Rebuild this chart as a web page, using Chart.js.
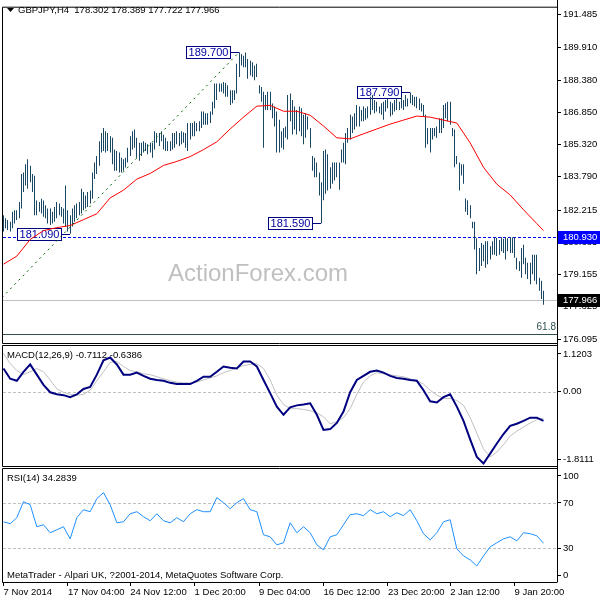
<!DOCTYPE html>
<html>
<head>
<meta charset="utf-8">
<title>GBPJPY H4</title>
<script src="https://cdn.jsdelivr.net/npm/chart.js@4.4.1/dist/chart.umd.min.js"></script>
<style>
  html, body { margin: 0; padding: 0; background: #fff; }
  #wrap { position: relative; width: 600px; height: 600px; }
  #wrap canvas { position: absolute; left: 0; top: 0; }
</style>
</head>
<body>
<div id="wrap">
  <canvas id="priceChart" width="600" height="600"></canvas>
  <canvas id="macdChart" width="600" height="600"></canvas>
  <canvas id="rsiChart" width="600" height="600"></canvas>
</div>
<script>
// H4 bars (one entry per bar, oldest first)
const barHigh = [
  181.97,181.82,181.74,181.66,182.13,182.21,182.21,182.60,183.92,184.00,
  184.39,184.62,184.31,183.92,183.84,182.67,182.60,182.75,182.67,182.44,
  182.29,182.29,182.13,182.36,182.60,182.52,182.36,182.29,183.38,182.21,
  181.97,182.29,182.44,182.52,182.60,183.22,183.07,182.91,183.07,183.14,
  184.00,184.47,184.78,185.48,185.87,186.10,185.95,185.87,185.71,185.64,
  185.09,185.01,184.94,184.70,184.62,184.70,185.17,185.71,185.95,186.03,
  185.64,185.40,185.40,185.48,185.40,185.33,185.40,185.40,185.95,185.87,
  185.87,185.95,185.79,185.64,185.48,185.48,185.87,185.87,185.95,185.87,
  185.95,185.90,185.87,186.34,186.34,186.34,186.42,186.34,186.42,186.89,
  186.89,186.81,186.81,186.89,187.35,188.21,188.21,188.21,188.21,188.29,
  188.24,188.13,187.90,187.90,187.90,189.15,189.70,189.61,189.53,189.69,
  189.38,189.30,189.22,189.07,189.15,188.13,188.05,187.82,187.67,187.82,
  187.82,187.27,187.12,186.89,186.50,185.95,186.11,186.18,187.67,187.74,
  187.43,187.12,186.96,187.12,187.04,186.73,186.81,186.65,186.11,184.78,
  184.70,184.47,184.00,183.53,185.02,185.09,184.86,184.24,184.47,184.47,
  184.47,184.47,185.09,185.41,185.87,186.11,186.73,186.65,186.81,187.20,
  187.12,186.96,187.12,187.04,187.12,187.59,187.67,187.43,187.35,187.12,
  187.28,187.35,187.43,187.51,187.35,187.28,187.43,187.51,187.35,187.59,
  187.43,187.67,187.51,187.79,187.67,187.59,187.59,187.51,187.28,187.20,
  186.73,186.11,186.11,186.11,186.11,186.18,186.57,186.57,187.20,187.28,
  187.35,187.35,186.11,186.03,184.78,184.47,184.39,184.39,182.76,182.68,
  182.44,181.66,181.66,180.88,180.42,180.65,180.57,180.73,180.73,180.50,
  180.73,180.93,180.90,180.80,180.93,180.85,180.93,180.88,180.93,180.91,
  180.93,179.95,179.79,180.42,180.57,179.95,179.71,179.71,180.10,180.10,
  180.10,179.01,178.86,178.39
];
const barLow = [
  181.20,181.35,181.27,181.20,181.35,181.58,181.74,181.82,182.29,183.07,
  183.38,183.22,183.53,183.07,181.97,181.97,182.13,182.05,181.90,181.82,
  181.58,181.51,181.58,181.66,181.82,181.97,181.90,181.58,181.43,181.20,
  181.09,181.43,181.66,181.82,181.97,182.05,182.21,182.29,182.36,182.52,
  182.75,183.69,183.92,184.31,184.94,185.01,184.94,185.01,184.94,184.39,
  184.08,184.08,184.00,184.00,184.08,184.23,184.47,184.78,185.09,185.17,
  184.70,184.55,184.78,184.94,185.01,184.86,184.94,184.70,185.09,185.40,
  185.25,185.48,185.09,185.01,185.01,185.01,185.09,185.17,185.33,185.25,
  185.33,185.40,185.17,185.01,185.56,185.71,185.71,185.95,185.95,186.10,
  186.26,186.26,186.26,186.34,186.73,187.04,187.43,187.82,187.82,187.74,
  187.59,187.59,187.20,187.28,187.43,187.74,188.52,189.07,188.99,188.99,
  188.44,188.60,188.52,188.37,188.52,187.74,187.35,185.17,186.96,186.96,
  186.96,186.57,186.18,184.94,184.94,185.17,185.09,185.64,185.56,186.42,
  185.80,186.03,185.80,185.95,185.72,185.33,185.64,186.03,185.17,184.08,
  183.77,183.77,182.91,181.59,182.68,182.99,183.14,183.22,183.46,183.61,
  183.77,183.18,184.47,184.47,184.39,185.41,185.56,185.87,186.03,186.18,
  186.18,186.42,186.42,186.50,186.57,186.73,186.96,186.81,186.89,186.81,
  186.73,186.50,186.89,187.04,186.65,186.73,186.89,186.96,186.96,187.04,
  186.96,187.12,187.12,187.28,187.20,187.12,187.04,186.96,186.89,186.65,
  185.17,185.33,184.94,185.56,185.72,185.64,185.87,185.87,186.11,186.57,
  186.42,186.26,185.72,184.24,184.39,183.14,183.85,183.46,182.13,181.98,
  181.82,181.35,180.34,179.17,179.33,179.56,179.79,179.48,179.64,179.87,
  180.10,180.10,180.03,180.10,180.26,180.18,179.87,180.26,180.18,180.18,
  179.95,179.40,179.33,179.01,179.64,179.17,178.94,178.70,179.17,178.86,
  178.70,178.39,178.00,177.72
];

// red moving average, one value every 6 bars
const maStep = 6;
const maValues = [
  179.65,180.03,180.82,181.24,181.38,181.48,181.76,182.04,182.79,183.16,
  183.68,183.95,184.33,184.52,184.75,185.08,185.45,186.06,186.62,187.14,
  187.18,186.90,186.90,186.71,186.20,185.64,185.59,185.83,186.06,186.29,
  186.48,186.67,186.62,186.48,186.34,185.40,184.24,183.44,182.93,182.23,
  181.57,181.24
];

// MACD / signal / RSI, one value every 3 bars
const indStep = 3;
const macdMain = [
  0.57,0.32,0.27,0.49,0.67,0.42,0.17,-0.01,-0.06,-0.08,
  -0.13,-0.06,0.07,0.12,0.42,0.77,0.84,0.67,0.42,0.42,
  0.47,0.39,0.32,0.29,0.27,0.22,0.19,0.19,0.19,0.27,
  0.37,0.37,0.49,0.62,0.59,0.57,0.74,0.74,0.62,0.29,
  -0.03,-0.36,-0.56,-0.38,-0.33,-0.31,-0.28,-0.56,-0.93,-0.91,
  -0.76,-0.48,-0.01,0.29,0.39,0.49,0.52,0.47,0.39,0.34,
  0.32,0.29,0.27,0.04,-0.23,-0.26,-0.13,-0.06,-0.36,-0.71,
  -1.16,-1.59,-1.75,-1.51,-1.26,-1.03,-0.83,-0.78,-0.71,-0.63,
  -0.63,-0.71
];
const macdSignal = [
  0.94,0.69,0.52,0.42,0.49,0.57,0.49,0.29,0.07,-0.01,
  -0.06,-0.08,-0.06,0.04,0.27,0.49,0.72,0.74,0.62,0.52,
  0.49,0.44,0.42,0.37,0.32,0.27,0.24,0.22,0.22,0.24,
  0.29,0.34,0.39,0.47,0.52,0.59,0.64,0.67,0.69,0.57,
  0.29,-0.08,-0.31,-0.41,-0.41,-0.43,-0.46,-0.51,-0.61,-0.78,
  -0.73,-0.63,-0.41,-0.06,0.24,0.39,0.47,0.44,0.42,0.39,
  0.37,0.32,0.27,0.19,0.04,-0.08,-0.16,-0.16,-0.21,-0.33,
  -0.63,-1.01,-1.39,-1.59,-1.47,-1.29,-1.08,-0.96,-0.86,-0.76,
  -0.68,-0.64
];
const rsiValues = [
  53.3,51.6,56.9,71.1,68.4,48.9,50.7,43.6,46.2,48.9,
  38.2,56.9,64.0,62.2,73.8,79.1,68.4,52.4,53.3,60.4,
  62.2,57.8,54.2,60.4,54.2,52.4,56.9,53.3,60.4,64.0,
  62.2,62.2,74.7,70.2,64.9,70.2,73.8,64.0,62.2,41.8,
  40.0,32.9,34.7,52.4,43.6,48.9,43.6,32.9,28.4,40.0,
  41.8,50.7,59.6,60.4,58.7,64.0,60.4,62.2,57.8,61.3,
  58.7,64.0,54.2,42.7,37.3,43.6,53.3,55.1,29.3,23.1,
  19.6,14.2,23.1,31.1,34.7,38.2,40.0,36.4,43.6,42.7,
  40.9,34.3
];

// axis ticks
const priceTicks = [191.485, 189.910, 188.380, 186.850, 185.320, 183.790, 182.215, 180.685, 179.155, 177.625, 176.095];
const macdTicks = [0.926, 0, -1.641];
const macdTickLabels = ['1.1203', '0.00', '-1.8111'];
const rsiTicks = [93.9, 70, 30, 6.1];
const rsiTickLabels = ['100', '70', '30', '0'];
const dateTickBars = [0, 29, 57, 86, 115, 144, 173, 201, 230];
const dateTickLabels = ['7 Nov 2014', '17 Nov 04:00', '24 Nov 12:00', '1 Dec 20:00', '9 Dec 04:00',
  '16 Dec 12:00', '23 Dec 20:00', '2 Jan 12:00', '9 Jan 20:00'];

// chart objects
const markBars = [106, 183, 143, 30];
const markPrices = [189.70, 187.79, 181.59, 181.09];
const markLabels = ['189.700', '187.790', '181.590', '181.090'];
const trendBars = [-0.7, 106];
const trendPrices = [178.06, 189.70];
const levelPrice = 180.93;
const bidPrice = 177.966;
const fibPrice = 176.32;
const macdLevels = [0];
const rsiLevels = [70, 30];

const FONT = '"Liberation Sans", Arial, sans-serif';
Chart.defaults.font.family = FONT;
Chart.defaults.font.size = 9.5;
Chart.defaults.color = '#000';

const lastBar = barHigh.length - 1;
const xRange = { min: -0.225, max: 249.075 };

function stepSeries(values, step) {
  return values.map((v, k) => ({ x: Math.min(k * step, lastBar), y: v }));
}

function hiddenX() {
  return { type: 'linear', min: xRange.min, max: xRange.max, offset: false, display: false };
}

function rightAxis(min, max, tickValues, labels) {
  return {
    position: 'right', min: min, max: max,
    afterFit: s => { s.width = 43; },
    afterBuildTicks: s => { s.ticks = tickValues.map(v => ({ value: v })); },
    grid: { drawOnChartArea: false, drawTicks: true, tickLength: 4, color: '#000' },
    border: { display: false },
    ticks: { autoSkip: false, padding: 2, callback: (v, i) => labels[i] }
  };
}

function drawLevel(chart, value, color, dash) {
  const { ctx, chartArea: a } = chart;
  const y = Math.round(chart.scales.y.getPixelForValue(value)) + 0.5;
  ctx.save();
  ctx.strokeStyle = color;
  ctx.lineWidth = 1;
  ctx.setLineDash(dash);
  ctx.beginPath();
  ctx.moveTo(a.left, y);
  ctx.lineTo(a.right, y);
  ctx.stroke();
  ctx.restore();
}

function drawFrame(chart) {
  const { ctx, chartArea: a } = chart;
  ctx.save();
  ctx.strokeStyle = '#000';
  ctx.lineWidth = 1;
  ctx.beginPath();
  ctx.moveTo(a.right, a.top - 0.5);
  ctx.lineTo(2.5, a.top - 0.5);
  ctx.lineTo(2.5, a.bottom + 0.5);
  ctx.lineTo(a.right, a.bottom + 0.5);
  ctx.stroke();
  ctx.restore();
}

function text(ctx, str, x, y, font, color, align) {
  ctx.save();
  ctx.font = font;
  ctx.fillStyle = color;
  ctx.textAlign = align || 'left';
  ctx.textBaseline = 'middle';
  ctx.fillText(str, x, y);
  ctx.restore();
}

const common = {
  responsive: false,
  animation: false,
  events: [],
  plugins: { legend: { display: false }, tooltip: { enabled: false } }
};

// ---- price panel ----
const pricePlugin = {
  id: 'pricePanel',
  beforeDatasetsDraw(chart) {
    const { ctx, scales } = chart;
    text(ctx, 'ActionForex.com', 168, 274, '24px ' + FONT, '#c0c0c0');
    drawLevel(chart, bidPrice, '#c0c0c0', []);
    drawLevel(chart, fibPrice, '#2f4f4f', []);
    drawLevel(chart, levelPrice, '#0000ff', [3, 2]);
    text(ctx, '61.8', chart.chartArea.right - 1, scales.y.getPixelForValue(fibPrice) - 7, '10px ' + FONT, '#2f4f4f', 'right');

    // price labels of the swing points
    ctx.save();
    ctx.font = '11px ' + FONT;
    markLabels.forEach((lbl, i) => {
      const px = Math.round(scales.x.getPixelForValue(markBars[i]));
      const py = Math.round(scales.y.getPixelForValue(markPrices[i])) + 0.5;
      const w = Math.round(ctx.measureText(lbl).width) + 4;
      const right = px - 9;
      ctx.strokeStyle = '#000080';
      ctx.lineWidth = 1;
      ctx.beginPath();
      ctx.moveTo(right, py);
      ctx.lineTo(px, py);
      ctx.stroke();
      ctx.fillStyle = '#fff';
      ctx.fillRect(right - w, py - 6.5, w, 13);
      ctx.strokeRect(right - w + 0.5, py - 6, w, 12);
      ctx.fillStyle = '#0000a0';
      ctx.textAlign = 'center';
      ctx.textBaseline = 'middle';
      ctx.fillText(lbl, right - w / 2 + 0.5, py + 0.5);
    });
    ctx.restore();

    // snap the 1px bars onto whole pixel columns so they stay crisp
    chart.getDatasetMeta(2).data.forEach(el => { el.x = Math.floor(el.x) + 0.5; });
  },
  afterDraw(chart) {
    const { ctx, scales, chartArea: a } = chart;
    drawFrame(chart);
    // title
    ctx.save();
    ctx.fillStyle = '#000';
    ctx.beginPath();
    ctx.moveTo(7, 8); ctx.lineTo(14, 8); ctx.lineTo(10.5, 12); ctx.closePath();
    ctx.fill();
    ctx.restore();
    text(ctx, 'GBPJPY,H4  178.302 178.389 177.722 177.966', 18, 10.5, '9.5px ' + FONT, '#000');
    // highlighted price boxes on the axis
    [[levelPrice, '180.930', '#0000ff'], [bidPrice, '177.966', '#000']].forEach(b => {
      const y = Math.round(scales.y.getPixelForValue(b[0]));
      ctx.fillStyle = b[2];
      ctx.fillRect(a.right, y - 6, 600 - a.right, 13);
      text(ctx, b[1], a.right + 6, y + 0.5, '9.5px ' + FONT, '#fff');
    });
  }
};

new Chart(document.getElementById('priceChart'), {
  type: 'bar',
  data: {
    datasets: [
      {
        type: 'line', order: 1,
        data: trendBars.map((b, i) => ({ x: b, y: trendPrices[i] })),
        borderColor: '#006400', borderWidth: 1, borderDash: [2, 4], pointRadius: 0
      },
      {
        type: 'line', order: 2,
        data: stepSeries(maValues, maStep),
        borderColor: '#ff0000', borderWidth: 1, pointRadius: 0, tension: 0
      },
      {
        type: 'bar', order: 3,
        data: barHigh.map((h, i) => ({ x: i, y: [barLow[i], h] })),
        backgroundColor: '#1a4763', barThickness: 1, grouped: false,
        borderWidth: 0, inflateAmount: 0
      }
    ]
  },
  options: Object.assign({}, common, {
    layout: { padding: { left: 3, top: 3, right: 0, bottom: 257 } },
    scales: {
      x: hiddenX(),
      y: rightAxis(175.91, 191.81, priceTicks, priceTicks.map(v => v.toFixed(3)))
    }
  }),
  plugins: [pricePlugin]
});

// ---- MACD panel ----
new Chart(document.getElementById('macdChart'), {
  type: 'line',
  data: {
    datasets: [
      { data: stepSeries(macdMain, indStep), borderColor: '#000080', borderWidth: 2, pointRadius: 0 },
      { data: stepSeries(macdSignal, indStep), borderColor: '#c0c0c0', borderWidth: 1, pointRadius: 0 }
    ]
  },
  options: Object.assign({}, common, {
    layout: { padding: { left: 3, top: 346, right: 0, bottom: 134 } },
    scales: {
      x: hiddenX(),
      y: rightAxis(-1.8111, 1.1203, macdTicks, macdTickLabels)
    }
  }),
  plugins: [{
    id: 'macdPanel',
    beforeDatasetsDraw(chart) {
      macdLevels.forEach(v => drawLevel(chart, v, '#c0c0c0', [3, 2]));
    },
    afterDraw(chart) {
      drawFrame(chart);
      text(chart.ctx, 'MACD(12,26,9) -0.7112 -0.6386', 7, 355, '9.5px ' + FONT, '#000');
    }
  }]
});

// ---- RSI panel ----
new Chart(document.getElementById('rsiChart'), {
  type: 'line',
  data: {
    datasets: [
      { data: stepSeries(rsiValues, indStep), borderColor: '#1e90ff', borderWidth: 1, pointRadius: 0 }
    ]
  },
  options: Object.assign({}, common, {
    layout: { padding: { left: 3, top: 469, right: 0, bottom: 0 } },
    scales: {
      x: {
        type: 'linear', min: xRange.min, max: xRange.max, offset: false, position: 'bottom',
        afterFit: s => { s.height = 18; },
        afterBuildTicks: s => { s.ticks = dateTickBars.map(v => ({ value: v })); },
        grid: { drawOnChartArea: false, drawTicks: true, tickLength: 4, color: '#000' },
        border: { display: false },
        ticks: { autoSkip: false, maxRotation: 0, minRotation: 0, align: 'start', padding: 1,
          callback: (v, i) => dateTickLabels[i] }
      },
      y: rightAxis(0, 100, rsiTicks, rsiTickLabels)
    }
  }),
  plugins: [{
    id: 'rsiPanel',
    beforeDatasetsDraw(chart) {
      rsiLevels.forEach(v => drawLevel(chart, v, '#c0c0c0', [3, 2]));
    },
    afterDraw(chart) {
      const ctx = chart.ctx;
      drawFrame(chart);
      text(ctx, 'RSI(14) 34.2839', 7, 478, '9.5px ' + FONT, '#000');
      text(ctx, 'MetaTrader - Alpari UK, ?2001-2014, MetaQuotes Software Corp.', 7, 575, '9.5px ' + FONT, '#000');
      // price scale line running down all three panels
      ctx.save();
      ctx.strokeStyle = '#000';
      ctx.lineWidth = 1;
      ctx.beginPath();
      ctx.moveTo(chart.chartArea.right + 0.5, 0);
      ctx.lineTo(chart.chartArea.right + 0.5, chart.chartArea.bottom + 0.5);
      ctx.stroke();
      ctx.restore();
    }
  }]
});
</script>
</body>
</html>
